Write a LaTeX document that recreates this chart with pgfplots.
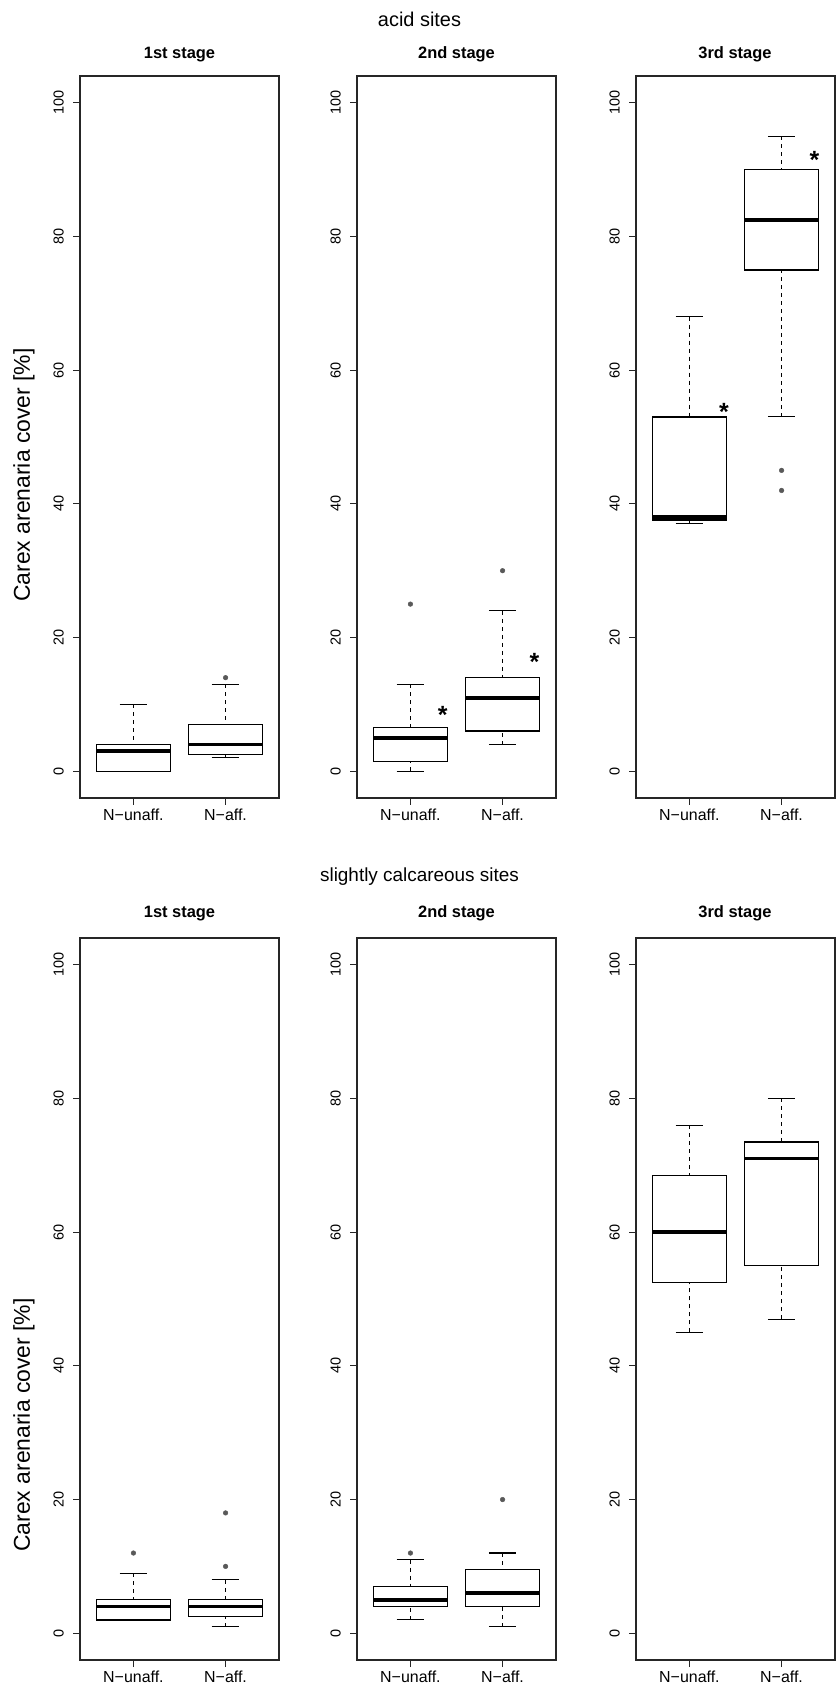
\documentclass[border=0pt]{standalone}
\usepackage{fontspec}
\setmainfont{Liberation Sans}
\usepackage{pgfplots}
\pgfplotsset{compat=1.18}
\usepgfplotslibrary{statistics}

\tikzset{rstar/.style={font=\bfseries\fontsize{25}{25}\selectfont, inner sep=0pt, yshift=-5.5bp}}
\pgfplotsset{
  rpanel/.style={
    scale only axis, width=199bp, height=722bp,
    xmin=0.42, xmax=2.58, ymin=-4, ymax=104,
    xtick={1,2}, xticklabels={N−unaff.,N−aff.},
    ytick={0,20,40,60,80,100},
    /pgf/number format/assume math mode=true,
    tick align=outside, major tick length=7bp,
    xtick pos=left, ytick pos=left,
    axis line style={line width=1.3bp, black!85},
    every tick/.style={black!85, line width=1bp},
    xticklabel style={font=\fontsize{16}{18}\selectfont, inner sep=0pt},
    yticklabel style={font=\fontsize{14.5}{16}\selectfont, rotate=90, anchor=south, inner sep=0pt},
    xticklabel shift=4bp,
    yticklabel shift=9bp,
    clip=false,
  },
  rbox/.style={
    draw=black, solid, line width=1.3bp,
    boxplot/draw direction=y,
    boxplot/box extend=0.8,
    boxplot/whisker extend=0.3,
    boxplot/every median/.style={line width=3.6bp},
    mark=*, mark size=2.3bp, mark options={fill=black!65, draw=black!65, line width=0.5bp},
    boxplot/draw/lower whisker/.code={%
      \draw[black, dash pattern=on 4bp off 4bp, line width=1bp]
        (boxplot box cs:\pgfplotsboxplotvalue{lower whisker},0.5) --
        (boxplot box cs:\pgfplotsboxplotvalue{lower quartile},0.5);
      \draw[black, solid, line width=1.1bp]
        (boxplot whisker cs:\pgfplotsboxplotvalue{lower whisker},0) --
        (boxplot whisker cs:\pgfplotsboxplotvalue{lower whisker},1);
    },
    boxplot/draw/upper whisker/.code={%
      \draw[black, dash pattern=on 4bp off 4bp, line width=1bp]
        (boxplot box cs:\pgfplotsboxplotvalue{upper whisker},0.5) --
        (boxplot box cs:\pgfplotsboxplotvalue{upper quartile},0.5);
      \draw[black, solid, line width=1.1bp]
        (boxplot whisker cs:\pgfplotsboxplotvalue{upper whisker},0) --
        (boxplot whisker cs:\pgfplotsboxplotvalue{upper whisker},1);
    },
  },
}

\begin{document}
\begin{tikzpicture}
% ---------------- acid sites ----------------
\begin{axis}[rpanel, at={(80bp,893bp)}, anchor=south west]
\addplot[rbox, boxplot prepared={draw position=1, lower whisker=0, lower quartile=0, median=3, upper quartile=4, upper whisker=10}] coordinates {};
\addplot[rbox, boxplot prepared={draw position=2, lower whisker=2, lower quartile=2.5, median=4, upper quartile=7, upper whisker=13}] table[row sep=\\, y index=0] {v\\ 14\\};
\end{axis}

\begin{axis}[rpanel, at={(357bp,893bp)}, anchor=south west]
\addplot[rbox, boxplot prepared={draw position=1, lower whisker=0, lower quartile=1.5, median=5, upper quartile=6.5, upper whisker=13}] table[row sep=\\, y index=0] {v\\ 25\\};
\addplot[rbox, boxplot prepared={draw position=2, lower whisker=4, lower quartile=6, median=11, upper quartile=14, upper whisker=24}] table[row sep=\\, y index=0] {v\\ 30\\};
\node[rstar] at (axis cs:1.35,9.2) {*};
\node[rstar] at (axis cs:2.345,17.2) {*};
\end{axis}

\begin{axis}[rpanel, at={(636bp,893bp)}, anchor=south west]
\addplot[rbox, boxplot prepared={draw position=1, lower whisker=37, lower quartile=37.6, median=38, upper quartile=53, upper whisker=68}] coordinates {};
\addplot[rbox, boxplot prepared={draw position=2, lower whisker=53, lower quartile=75, median=82.5, upper quartile=90, upper whisker=95}] table[row sep=\\, y index=0] {v\\ 45\\ 42\\};
\node[rstar] at (axis cs:1.375,54.6) {*};
\node[rstar] at (axis cs:2.356,92.2) {*};
\end{axis}

% ---------------- slightly calcareous sites ----------------
\begin{axis}[rpanel, at={(80bp,31bp)}, anchor=south west]
\addplot[rbox, boxplot prepared={draw position=1, lower whisker=2, lower quartile=2, median=4, upper quartile=5, upper whisker=9}] table[row sep=\\, y index=0] {v\\ 12\\};
\addplot[rbox, boxplot prepared={draw position=2, lower whisker=1, lower quartile=2.5, median=4, upper quartile=5, upper whisker=8}] table[row sep=\\, y index=0] {v\\ 10\\ 18\\};
\end{axis}

\begin{axis}[rpanel, at={(357bp,31bp)}, anchor=south west]
\addplot[rbox, boxplot prepared={draw position=1, lower whisker=2, lower quartile=4, median=5, upper quartile=7, upper whisker=11}] table[row sep=\\, y index=0] {v\\ 12\\};
\addplot[rbox, boxplot prepared={draw position=2, lower whisker=1, lower quartile=4, median=6, upper quartile=9.5, upper whisker=12}] table[row sep=\\, y index=0] {v\\ 20\\};
\end{axis}

\begin{axis}[rpanel, at={(636bp,31bp)}, anchor=south west]
\addplot[rbox, boxplot prepared={draw position=1, lower whisker=45, lower quartile=52.5, median=60, upper quartile=68.5, upper whisker=76}] coordinates {};
\addplot[rbox, boxplot prepared={draw position=2, lower whisker=47, lower quartile=55, median=71, upper quartile=73.5, upper whisker=80}] coordinates {};
\end{axis}

% ---------------- titles and labels ----------------
\node[font=\fontsize{20}{22}\selectfont, anchor=base] at (419.5bp,1664bp) {acid sites};
\node[font=\fontsize{19}{22}\selectfont, anchor=base] at (419.5bp,809bp) {slightly calcareous sites};
\foreach \x/\t in {179.5/1st stage, 456.5/2nd stage, 735/3rd stage} {
  \node[font=\bfseries\fontsize{16.5}{18}\selectfont, anchor=base] at (\x bp,1632bp) {\t};
  \node[font=\bfseries\fontsize{16.5}{18}\selectfont, anchor=base] at (\x bp,773bp) {\t};
}
\node[rotate=90, font=\fontsize{23}{24}\selectfont] at (24bp,1216bp) {Carex arenaria cover [\%]};
\node[rotate=90, font=\fontsize{23}{24}\selectfont] at (24bp,266bp) {Carex arenaria cover [\%]};

\pgfresetboundingbox
\path (0bp,0bp) rectangle (839bp,1691bp);
\end{tikzpicture}
\end{document}
